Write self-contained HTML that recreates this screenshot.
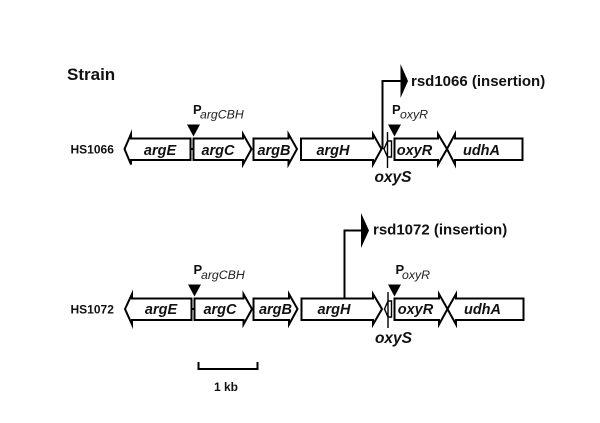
<!DOCTYPE html>
<html>
<head>
<meta charset="utf-8">
<style>
html,body{margin:0;padding:0;background:#fff;}
svg{display:block;}
text{font-family:"Liberation Sans",Arial,sans-serif;fill:#111;}
.g{font-weight:bold;font-style:italic;font-size:14.5px;text-anchor:middle;}
.o{font-weight:bold;font-style:italic;font-size:15.5px;text-anchor:middle;}
.p{fill:#fff;stroke:#000;stroke-width:2;stroke-linejoin:miter;stroke-miterlimit:5;}
.l{fill:none;stroke:#000;stroke-width:2;}
.t{fill:none;stroke:#000;stroke-width:1.4;}
.s{font-weight:bold;font-size:12px;}
.r{font-weight:bold;font-size:15px;}
.sub{font-style:italic;font-size:12.3px;fill:#222;}
.big{font-weight:bold;font-size:13px;}
</style>
</head>
<body>
<svg width="600" height="423" viewBox="0 0 600 423" xmlns="http://www.w3.org/2000/svg">
<rect width="600" height="423" fill="#fff"/>
<text x="67" y="80" font-size="17" font-weight="bold">Strain</text>

<!-- Row 1 -->
<g>
<line class="l" x1="190" y1="149" x2="194" y2="149"/>
<path class="p" d="M124.500 149 L131 134 L131 138.500 L190.500 138.500 L190.500 160 L131 160 L131 164.500 Z"/>
<path class="p" d="M193.500 138.500 L243 138.500 L243 134 L251.500 149 L243 164.500 L243 160 L193.500 160 Z"/>
<path class="p" d="M253.500 138.500 L288.500 138.500 L288.500 134 L297 149 L288.500 164.500 L288.500 160 L253.500 160 Z"/>
<path class="p" d="M301 138.500 L373 138.500 L373 134 L381.500 149 L373 164.500 L373 160 L301 160 Z"/>
<path class="t" d="M387.500 132 L387.500 168 M384 149 L387.500 141 L391.500 141 L391.500 157 L387.500 157 Z"/>
<path class="p" d="M394.500 138.500 L438 138.500 L438 134 L447 149 L438 164.500 L438 160 L394.500 160 Z"/>
<path class="p" d="M447 149 L455 134 L455 138.500 L522.500 138.500 L522.500 160 L455 160 L455 164.500 Z"/>
<polygon points="187,124.500 200,124.500 193.500,136.500" fill="#000"/>
<polygon points="388,124.500 401,124.500 394.500,136.500" fill="#000"/>
<polyline class="l" points="382.500,149 382.500,81 401,81"/>
<polygon points="400.500,64 408,81 400.500,98" fill="#000"/>
<text class="g" x="160" y="155">argE</text>
<text class="g" x="218" y="155">argC</text>
<text class="g" x="274" y="155">argB</text>
<text class="g" x="333" y="155">argH</text>
<text class="g" x="414.500" y="155">oxyR</text>
<text class="g" x="481.500" y="155">udhA</text>
<text class="o" x="393" y="182">oxyS</text>
<text class="s" x="70.500" y="153.500">HS1066</text>
<text class="r" x="411" y="86">rsd1066 (insertion)</text>
<text class="big" x="193" y="114">P</text><text class="sub" x="200" y="118.500">argCBH</text>
<text class="big" x="392" y="114">P</text><text class="sub" x="400" y="118.500">oxyR</text>
</g>

<!-- Row 2 -->
<g>
<line class="l" x1="191" y1="309" x2="195" y2="309"/>
<path class="p" d="M125 309 L132 294 L132 298.500 L191.500 298.500 L191.500 320 L132 320 L132 324.500 Z"/>
<path class="p" d="M194.500 298.500 L243.500 298.500 L243.500 294 L252 309 L243.500 324.500 L243.500 320 L194.500 320 Z"/>
<path class="p" d="M253.500 298.500 L289 298.500 L289 294 L297.500 309 L289 324.500 L289 320 L253.500 320 Z"/>
<path class="p" d="M301.500 298.500 L373 298.500 L373 294 L382 309 L373 324.500 L373 320 L301.500 320 Z"/>
<path class="t" d="M388 292 L388 328 M384.500 309 L388 301 L391.500 301 L391.500 317 L388 317 Z"/>
<path class="p" d="M394.500 298.500 L439 298.500 L439 294 L447.500 309 L439 324.500 L439 320 L394.500 320 Z"/>
<path class="p" d="M447.500 309 L456 294 L456 298.500 L523.500 298.500 L523.500 320 L456 320 L456 324.500 Z"/>
<polygon points="188,284.500 201,284.500 194.500,296.500" fill="#000"/>
<polygon points="388,284.500 401,284.500 394.500,296.500" fill="#000"/>
<polyline class="l" points="344.500,298 344.500,230.500 362,230.500"/>
<polygon points="361,213 369,230.500 361,248" fill="#000"/>
<text class="g" x="161" y="314">argE</text>
<text class="g" x="220" y="314">argC</text>
<text class="g" x="275.500" y="314">argB</text>
<text class="g" x="334" y="314">argH</text>
<text class="g" x="415.500" y="314">oxyR</text>
<text class="g" x="482.500" y="314">udhA</text>
<text class="o" x="393.500" y="343">oxyS</text>
<text class="s" x="70.500" y="313.500">HS1072</text>
<text class="r" x="373" y="234.500">rsd1072 (insertion)</text>
<text class="big" x="193.500" y="274">P</text><text class="sub" x="201" y="279">argCBH</text>
<text class="big" x="395.500" y="274">P</text><text class="sub" x="402" y="279">oxyR</text>
</g>

<!-- Scale -->
<polyline class="l" points="198.500,362 198.500,369 257.500,369 257.500,362"/>
<text class="s" x="214" y="391">1 kb</text>
</svg>
</body>
</html>
